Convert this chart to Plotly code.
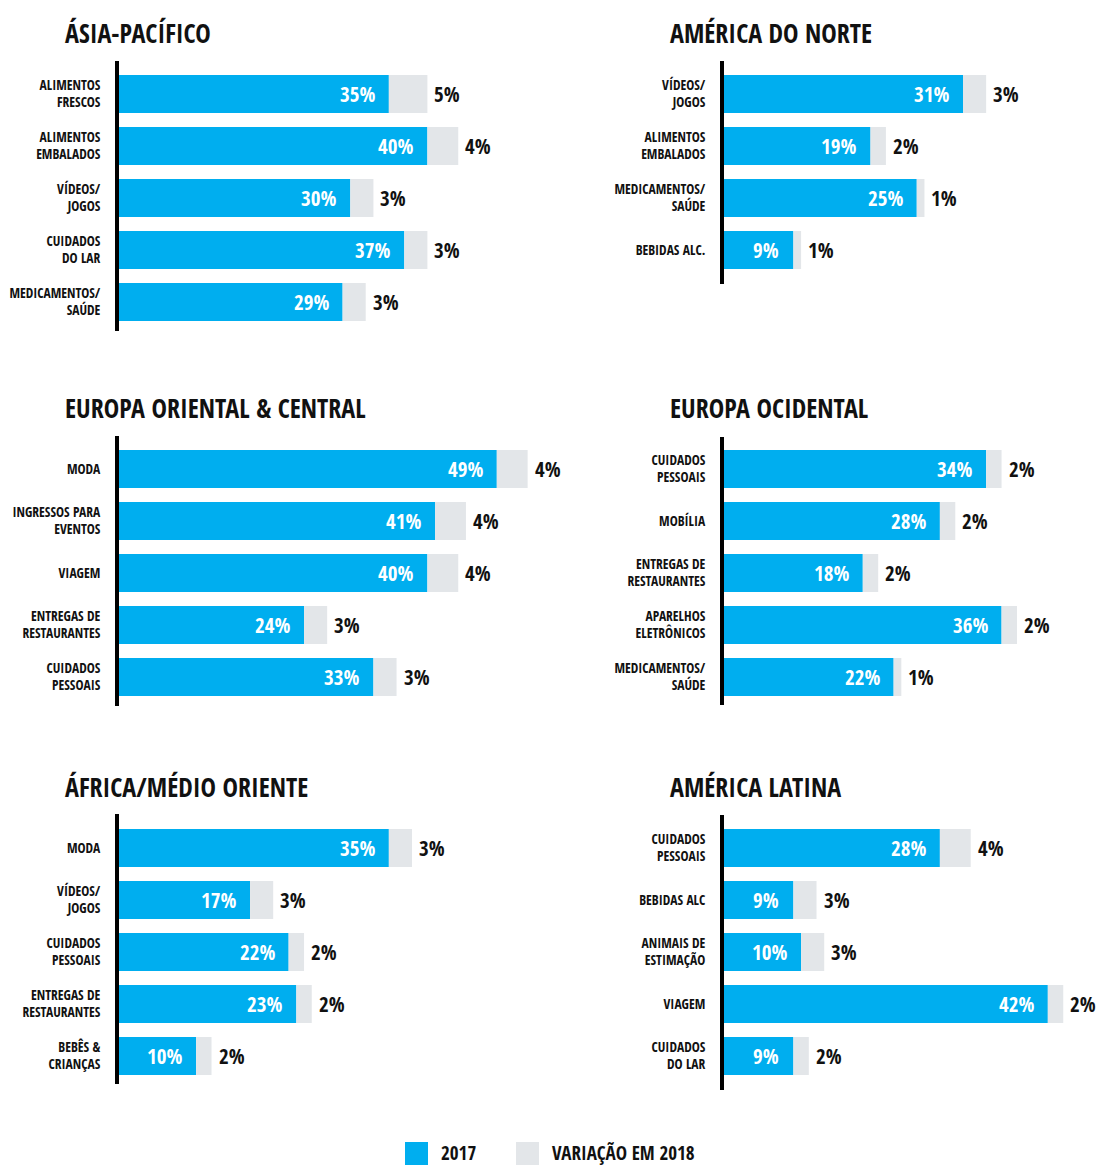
import plotly.graph_objects as go

W, H = 1096, 1167

# ---------------- data ----------------
titles = ["ÁSIA-PACÍFICO", "AMÉRICA DO NORTE", "EUROPA ORIENTAL & CENTRAL",
          "EUROPA OCIDENTAL", "ÁFRICA/MÉDIO ORIENTE", "AMÉRICA LATINA"]

cats_asia = ["ALIMENTOS<br>FRESCOS", "ALIMENTOS<br>EMBALADOS", "VÍDEOS/<br>JOGOS",
             "CUIDADOS<br>DO LAR", "MEDICAMENTOS/<br>SAÚDE"]
v2017_asia = [35, 40, 30, 37, 29]
var2018_asia = [5, 4, 3, 3, 3]

cats_nam = ["VÍDEOS/<br>JOGOS", "ALIMENTOS<br>EMBALADOS", "MEDICAMENTOS/<br>SAÚDE", "BEBIDAS ALC."]
v2017_nam = [31, 19, 25, 9]
var2018_nam = [3, 2, 1, 1]

cats_eoc = ["MODA", "INGRESSOS PARA<br>EVENTOS", "VIAGEM",
            "ENTREGAS DE<br>RESTAURANTES", "CUIDADOS<br>PESSOAIS"]
v2017_eoc = [49, 41, 40, 24, 33]
var2018_eoc = [4, 4, 4, 3, 3]

cats_eoe = ["CUIDADOS<br>PESSOAIS", "MOBÍLIA", "ENTREGAS DE<br>RESTAURANTES",
            "APARELHOS<br>ELETRÔNICOS", "MEDICAMENTOS/<br>SAÚDE"]
v2017_eoe = [34, 28, 18, 36, 22]
var2018_eoe = [2, 2, 2, 2, 1]

cats_afr = ["MODA", "VÍDEOS/<br>JOGOS", "CUIDADOS<br>PESSOAIS",
            "ENTREGAS DE<br>RESTAURANTES", "BEBÊS &<br>CRIANÇAS"]
v2017_afr = [35, 17, 22, 23, 10]
var2018_afr = [3, 3, 2, 2, 2]

cats_lat = ["CUIDADOS<br>PESSOAIS", "BEBIDAS ALC", "ANIMAIS DE<br>ESTIMAÇÃO",
            "VIAGEM", "CUIDADOS<br>DO LAR"]
v2017_lat = [28, 9, 10, 42, 9]
var2018_lat = [4, 3, 3, 2, 2]

legend_names = ["2017", "VARIAÇÃO EM 2018"]

# ---------------- style / layout ----------------
BLUE = "#00AEEF"
GREY = "#E3E6E9"
INK = "#111111"
FONT = "Open Sans Condensed, Roboto Condensed, DejaVu Sans Condensed, sans-serif"

SCALE = 7.71   # px per percentage point
PITCH = 52     # px per row
BAR_H = 38

# x start px, axis top px, axis bottom px, first bar top px, x range max, title x px, title y px
panels = [
    (119, 61, 331, 75, 60, 65, 33),
    (724, 61, 284, 75, 48, 670, 33),
    (119, 436, 706, 450, 60, 65, 408),
    (724, 437, 705, 450, 48, 670, 408),
    (119, 814, 1084, 829, 60, 65, 787),
    (724, 815, 1090, 829, 48, 670, 787),
]
data = [
    (cats_asia, v2017_asia, var2018_asia),
    (cats_nam, v2017_nam, var2018_nam),
    (cats_eoc, v2017_eoc, var2018_eoc),
    (cats_eoe, v2017_eoe, var2018_eoe),
    (cats_afr, v2017_afr, var2018_afr),
    (cats_lat, v2017_lat, var2018_lat),
]

fig = go.Figure()
annotations = []
layout_axes = {}

for k, ((x0, ytop, ybot, bartop, xr, tx, ty), (cats, a, b)) in enumerate(zip(panels, data)):
    n = k + 1
    xa = "x" if n == 1 else f"x{n}"
    ya = "y" if n == 1 else f"y{n}"
    xkey = "xaxis" if n == 1 else f"xaxis{n}"
    ykey = "yaxis" if n == 1 else f"yaxis{n}"
    idx = list(range(len(cats)))

    fig.add_trace(go.Bar(y=idx, x=a, orientation="h", marker=dict(color=BLUE, line=dict(width=0)),
                         width=BAR_H / PITCH, xaxis=xa, yaxis=ya, showlegend=False,
                         name=legend_names[0], hoverinfo="x"))
    fig.add_trace(go.Bar(y=idx, x=b, base=a, orientation="h", marker=dict(color=GREY, line=dict(width=0)),
                         width=BAR_H / PITCH, xaxis=xa, yaxis=ya, showlegend=False,
                         name=legend_names[1], hoverinfo="x"))

    x1 = x0 + xr * SCALE
    v_top = -(bartop + BAR_H / 2 - ytop) / PITCH
    v_bot = v_top + (ybot - ytop) / PITCH

    layout_axes[xkey] = dict(domain=[x0 / W, min(x1 / W, 1)], range=[0, xr], visible=False,
                             anchor=ya, fixedrange=True, automargin=False)
    layout_axes[ykey] = dict(domain=[1 - ybot / H, 1 - ytop / H], range=[v_bot, v_top],
                             anchor=xa, tickvals=idx, ticktext=cats, showgrid=False,
                             zeroline=False, showline=True, linecolor="#000000", linewidth=4,
                             ticks="", ticklabelstandoff=12, automargin=False,
                             tickfont=dict(family=FONT, size=13.5, color=INK, weight="bold"),
                             fixedrange=True)

    for i in idx:
        annotations.append(dict(x=a[i], y=i, xref=xa, yref=ya, text=f"{a[i]}%",
                                showarrow=False, xanchor="right", yanchor="middle", xshift=-12,
                                font=dict(family=FONT, size=21, color="white", weight="bold")))
        annotations.append(dict(x=a[i] + b[i], y=i, xref=xa, yref=ya, text=f"{b[i]}%",
                                showarrow=False, xanchor="left", yanchor="middle", xshift=5,
                                font=dict(family=FONT, size=21, color=INK, weight="bold")))

    annotations.append(dict(x=tx / W, y=1 - ty / H, xref="paper", yref="paper", text=titles[k],
                            showarrow=False, xanchor="left", yanchor="middle", xshift=-2,
                            font=dict(family=FONT, size=26, color=INK, weight="bold")))

# legend (bottom)
shapes = [
    dict(type="rect", xref="paper", yref="paper", x0=405 / W, x1=428 / W,
         y0=1 - 1165 / H, y1=1 - 1142 / H, fillcolor=BLUE, line=dict(width=0)),
    dict(type="rect", xref="paper", yref="paper", x0=516 / W, x1=539 / W,
         y0=1 - 1165 / H, y1=1 - 1142 / H, fillcolor=GREY, line=dict(width=0)),
]
annotations.append(dict(x=441 / W, y=1 - 1153 / H, xref="paper", yref="paper", text=legend_names[0],
                        showarrow=False, xanchor="left", yanchor="middle", xshift=-2,
                        font=dict(family=FONT, size=19, color=INK, weight="bold")))
annotations.append(dict(x=552 / W, y=1 - 1153 / H, xref="paper", yref="paper", text=legend_names[1],
                        showarrow=False, xanchor="left", yanchor="middle", xshift=-2,
                        font=dict(family=FONT, size=19, color=INK, weight="bold")))

fig.update_layout(template="none", width=W, height=H, margin=dict(l=0, r=0, t=0, b=0),
                  paper_bgcolor="white", plot_bgcolor="white", barmode="overlay",
                  annotations=annotations, shapes=shapes, showlegend=False,
                  font=dict(family=FONT, color=INK), **layout_axes)

fig.write_html("out.html", config={"displayModeBar": False})
